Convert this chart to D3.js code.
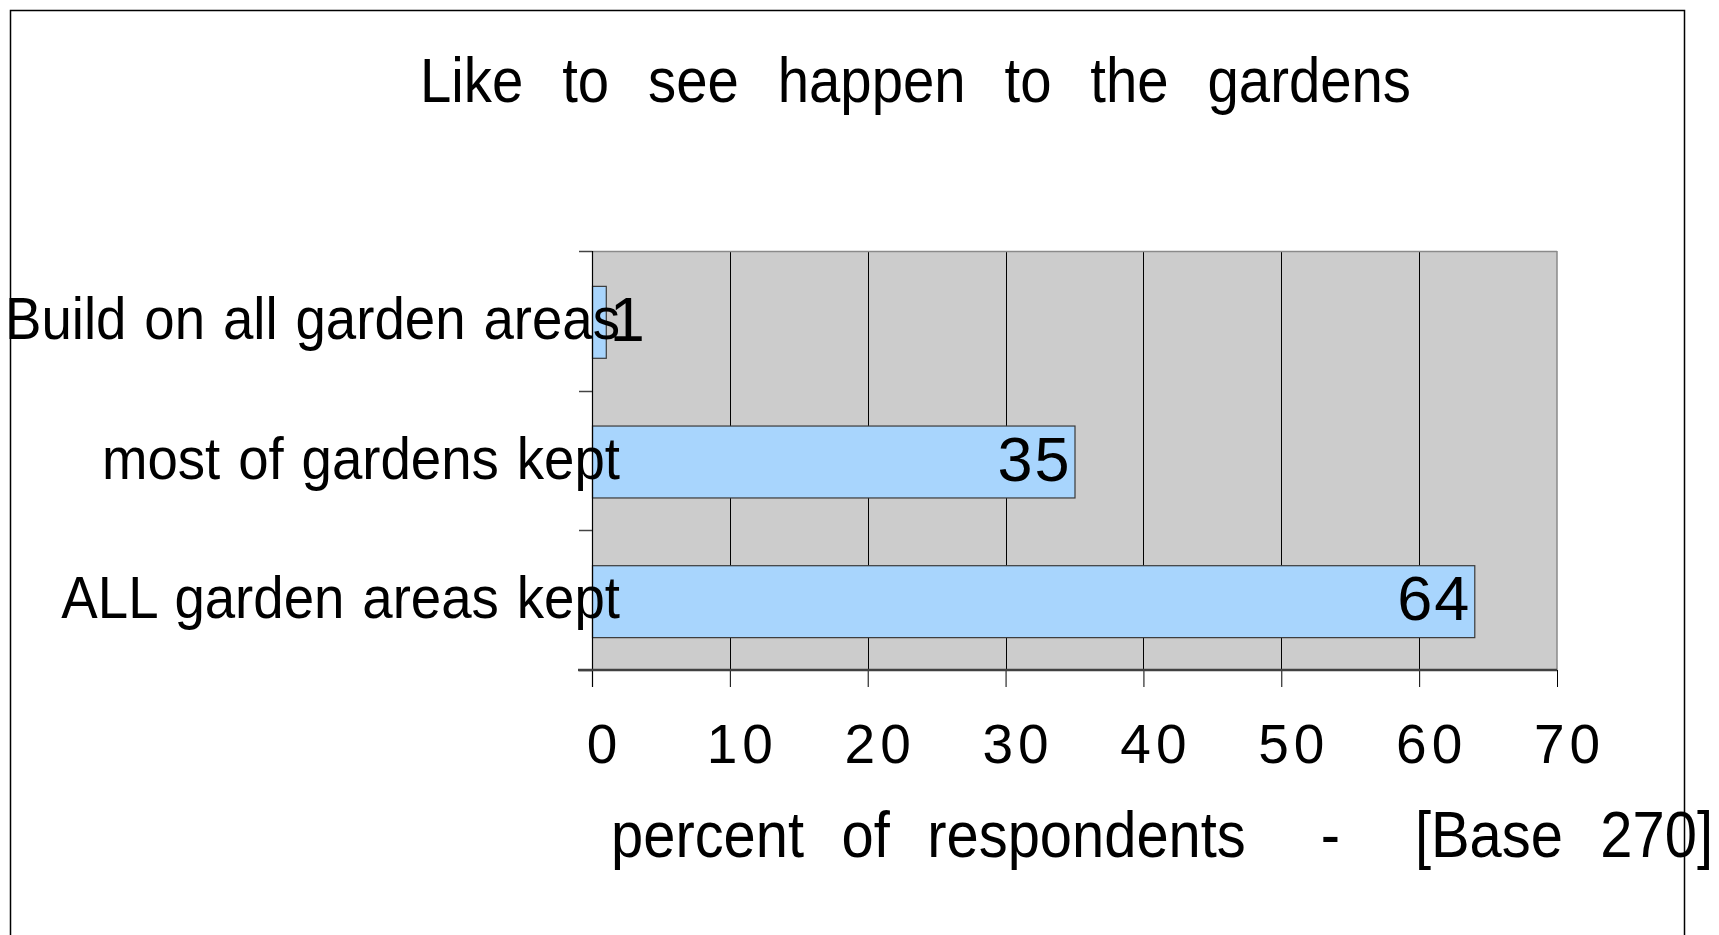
<!DOCTYPE html>
<html><head><meta charset="utf-8">
<script src="https://cdn.jsdelivr.net/npm/d3@7"></script>
<style>html,body{margin:0;padding:0;background:#fff;overflow:hidden}</style>
</head><body>
<svg id="c" width="1719" height="935"></svg>
<script>
const categories = ["Build on all garden areas", "most of gardens kept", "ALL garden areas kept"];
const values = [1, 35, 64];
const xTicks = [0, 10, 20, 30, 40, 50, 60, 70];
const titleText = "Like to see happen to the gardens";
const xAxisTitle = "percent of respondents  -  [Base 270]";

const W = 1719, H = 935;
const plot = {left: 592, right: 1557, top: 251, bottom: 670};
const narrow = "'Liberation Sans Narrow', 'Liberation Sans', Arial, sans-serif";
const regular = "'Liberation Sans', Arial, sans-serif";

const svg = d3.select("#c");
const x = d3.scaleLinear().domain([0, 70]).range([plot.left, plot.right]);
const y = d3.scaleBand().domain(categories).range([plot.top, plot.bottom])
  .paddingInner(0.485).paddingOuter(0.2425);

svg.append("rect").attr("width", W).attr("height", H).attr("fill", "#fff");
// outer frame
svg.append("rect").attr("x", 10.5).attr("y", 10.5).attr("width", 1674).attr("height", 1000)
  .attr("fill", "none").attr("stroke", "#000").attr("stroke-width", 1.5);

// plot background
svg.append("rect").attr("x", plot.left).attr("y", plot.top)
  .attr("width", plot.right - plot.left).attr("height", plot.bottom - plot.top)
  .attr("fill", "#cccccc");

// vertical gridlines
svg.append("g").selectAll("line").data(xTicks.filter(d => d > 0 && d < 70)).join("line")
  .attr("x1", d => Math.round(x(d)) + 0.5).attr("x2", d => Math.round(x(d)) + 0.5)
  .attr("y1", plot.top).attr("y2", plot.bottom)
  .attr("stroke", "#000").attr("stroke-width", 1);

// top and right border of plot
svg.append("line").attr("x1", plot.left).attr("x2", plot.right).attr("y1", plot.top + 0.5).attr("y2", plot.top + 0.5)
  .attr("stroke", "#8a8a8a").attr("stroke-width", 1.5);
svg.append("line").attr("x1", plot.right).attr("x2", plot.right).attr("y1", plot.top).attr("y2", plot.bottom)
  .attr("stroke", "#8a8a8a").attr("stroke-width", 1.5);

// bars
svg.append("g").selectAll("rect").data(categories).join("rect")
  .attr("x", x(0) + 0.5)
  .attr("y", d => y(d) + 1.5)
  .attr("width", (d, i) => x(values[i]) - x(0))
  .attr("height", y.bandwidth())
  .attr("fill", "#a8d5fd").attr("stroke", "#3a3a3a").attr("stroke-width", 1.2);

// y axis line and category boundary ticks
const bounds = d3.range(categories.length + 1).map(i => plot.top + i * (plot.bottom - plot.top) / categories.length);
svg.append("line").attr("x1", plot.left + 0.5).attr("x2", plot.left + 0.5)
  .attr("y1", plot.top).attr("y2", plot.bottom + 17).attr("stroke", "#000").attr("stroke-width", 1.2);
svg.append("g").selectAll("line").data(bounds).join("line")
  .attr("x1", plot.left - 13).attr("x2", plot.left)
  .attr("y1", d => Math.round(d) + 0.5).attr("y2", d => Math.round(d) + 0.5)
  .attr("stroke", "#444").attr("stroke-width", 1.5);

// x axis
const xAxis = d3.axisBottom(x).tickValues(xTicks).tickSize(17).tickSizeOuter(0);
const gx = svg.append("g").attr("transform", `translate(0,${plot.bottom})`).call(xAxis);
gx.select(".domain").remove();
gx.selectAll(".tick line").attr("stroke", "#000").attr("stroke-width", 1);
gx.selectAll(".tick text")
  .attr("font-family", regular).attr("font-size", 55).attr("fill", "#000")
  .attr("letter-spacing", "5px").attr("dx", 12).attr("dy", 0)
  .attr("y", 93);
svg.append("line").attr("x1", plot.left - 14).attr("x2", plot.right)
  .attr("y1", plot.bottom).attr("y2", plot.bottom).attr("stroke", "#404040").attr("stroke-width", 2.5);

// data labels
svg.append("g").selectAll("text").data(categories).join("text")
  .attr("x", (d, i) => (x(values[i]) - x(0) < 40) ? x(values[i]) + 4 : x(values[i]) - 3)
  .attr("text-anchor", (d, i) => (x(values[i]) - x(0) < 40) ? "start" : "end")
  .attr("y", d => y(d) + y.bandwidth() / 2 + 20)
  .attr("font-family", regular).attr("font-size", 63).attr("fill", "#000")
  .attr("letter-spacing", "2px")
  .text((d, i) => values[i]);

// category labels (horizontally condensed like the original narrow face)
const catLabels = svg.append("g").selectAll("text").data(categories).join("text")
  .attr("x", 620).attr("text-anchor", "end")
  .attr("y", d => y(d) + y.bandwidth() / 2 + 18)
  .attr("font-family", narrow).attr("font-size", 60).attr("fill", "#000")
  .attr("word-spacing", "3px")
  .text(d => d);
catLabels.each(function() {
  const len = this.getComputedTextLength();
  d3.select(this).attr("textLength", len * 0.91).attr("lengthAdjust", "spacingAndGlyphs");
});

// title
svg.append("text").attr("x", 420).attr("y", 102)
  .attr("font-family", narrow).attr("font-size", 63).attr("fill", "#000")
  .attr("word-spacing", "26px")
  .attr("textLength", 991).attr("lengthAdjust", "spacingAndGlyphs")
  .text(titleText);

// x axis title
svg.append("text").attr("x", 611).attr("y", 857)
  .attr("font-family", narrow).attr("font-size", 65).attr("fill", "#000")
  .attr("word-spacing", "24px").style("white-space", "pre")
  .attr("textLength", 1102).attr("lengthAdjust", "spacingAndGlyphs")
  .text(xAxisTitle);
</script>
</body></html>
